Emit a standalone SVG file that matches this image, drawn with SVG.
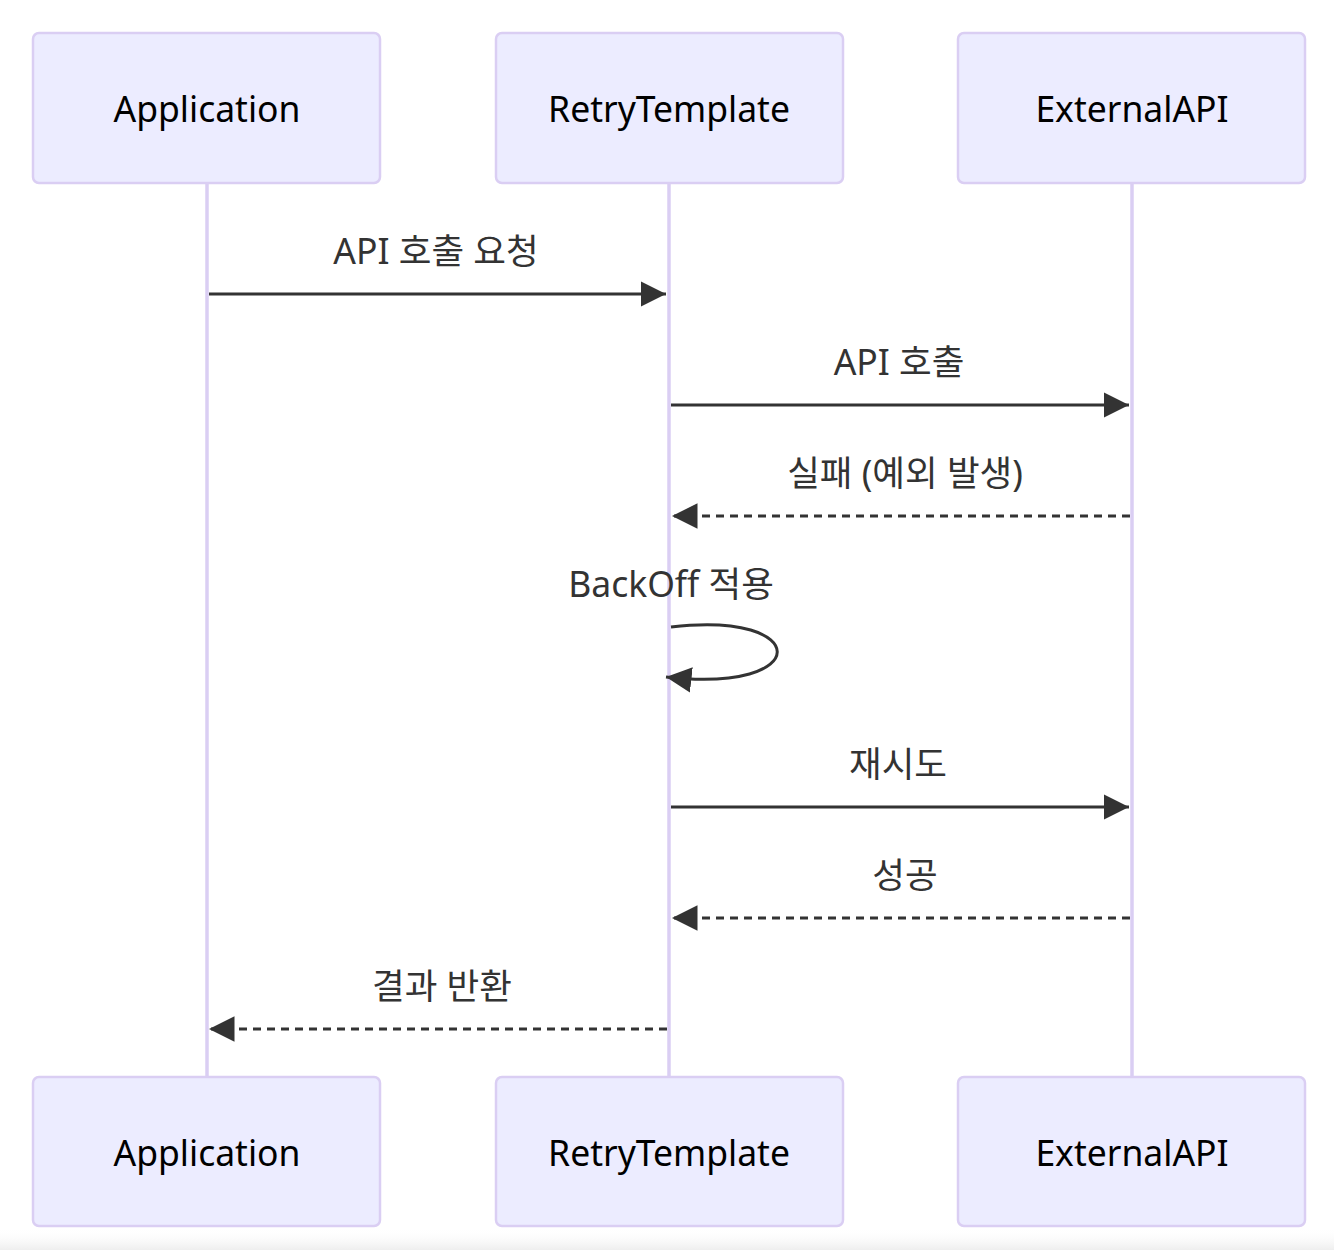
<svg xmlns="http://www.w3.org/2000/svg" width="1334" height="1250" viewBox="0 0 1334 1250">
<style>
.actor{fill:#ECECFF;stroke:#DACEF3;stroke-width:2.5}
.actor-text{font-family:"Noto Sans","Open Sans",sans-serif;font-size:35.5px;fill:#000;text-anchor:middle;dominant-baseline:central}
.life{stroke:#DACEF3;stroke-width:3.5}
.msg{stroke:#333;stroke-width:3;fill:none}
.dash{stroke-dasharray:8 6}
.lbl{font-family:"Noto Sans","Noto Sans CJK KR",sans-serif;font-size:35.5px;fill:#333;text-anchor:middle;dominant-baseline:central}
</style>
<defs>
<marker id="arrow" viewBox="0 0 12 12" refX="12" refY="6" markerWidth="8.5" markerHeight="8.5" markerUnits="strokeWidth" orient="auto"><path d="M0,0 L12,6 L0,12 z" fill="#333"/></marker>
<linearGradient id="shade" x1="0" y1="0" x2="0" y2="1"><stop offset="0" stop-color="#ffffff" stop-opacity="0"/><stop offset="1" stop-color="#eeeeee"/></linearGradient>
</defs>
<rect width="1334" height="1250" fill="#fff"/>
<rect x="0" y="1228" width="1334" height="22" fill="url(#shade)"/>
<g id="lifelines">
<line class="life" x1="207" y1="183" x2="207" y2="1077"/>
<line class="life" x1="669" y1="183" x2="669" y2="1077"/>
<line class="life" x1="1132" y1="183" x2="1132" y2="1077"/>
</g>
<g id="actor-app-top"><rect class="actor" x="33" y="33" width="347" height="150" rx="6"/><text class="actor-text" x="207" y="108">Application</text></g>
<g id="actor-retry-top"><rect class="actor" x="496" y="33" width="347" height="150" rx="6"/><text class="actor-text" x="669" y="108">RetryTemplate</text></g>
<g id="actor-ext-top"><rect class="actor" x="958" y="33" width="347" height="150" rx="6"/><text class="actor-text" x="1132" y="108">ExternalAPI</text></g>
<g id="actor-app-bottom"><rect class="actor" x="33" y="1077" width="347" height="149" rx="6"/><text class="actor-text" x="207" y="1152">Application</text></g>
<g id="actor-retry-bottom"><rect class="actor" x="496" y="1077" width="347" height="149" rx="6"/><text class="actor-text" x="669" y="1152">RetryTemplate</text></g>
<g id="actor-ext-bottom"><rect class="actor" x="958" y="1077" width="347" height="149" rx="6"/><text class="actor-text" x="1132" y="1152">ExternalAPI</text></g>
<g id="connectors">
<text class="lbl" x="436" y="250">API 호출 요청</text>
<line class="msg" x1="209" y1="294" x2="666" y2="294" marker-end="url(#arrow)"/>
<text class="lbl" x="899" y="361">API 호출</text>
<line class="msg" x1="671" y1="405" x2="1129" y2="405" marker-end="url(#arrow)"/>
<text class="lbl" x="905" y="472">실패 (예외 발생)</text>
<line class="msg dash" x1="1130" y1="516" x2="672" y2="516" marker-end="url(#arrow)"/>
<text class="lbl" x="671" y="583">BackOff 적용</text>
<path class="msg" d="M671,627 C812,610 815,694 666,677" marker-end="url(#arrow)"/>
<text class="lbl" x="898" y="763">재시도</text>
<line class="msg" x1="671" y1="807" x2="1129" y2="807" marker-end="url(#arrow)"/>
<text class="lbl" x="905" y="874">성공</text>
<line class="msg dash" x1="1130" y1="918" x2="672" y2="918" marker-end="url(#arrow)"/>
<text class="lbl" x="442" y="985">결과 반환</text>
<line class="msg dash" x1="667" y1="1029" x2="209" y2="1029" marker-end="url(#arrow)"/>
</g>
</svg>
